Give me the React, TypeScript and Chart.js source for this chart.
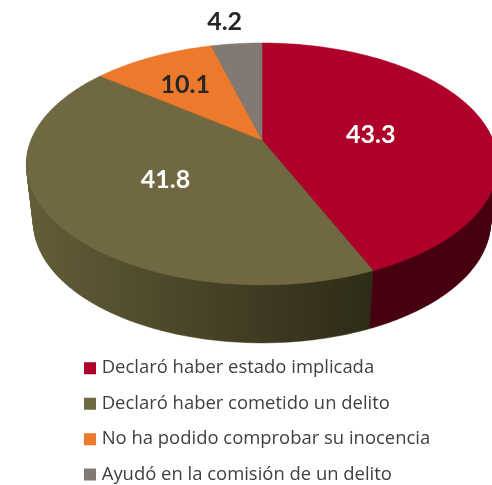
import React, { useEffect, useRef } from "react";
import { Chart, registerables } from "chart.js";

Chart.register(...registerables);

const categories = [
  "Declaró haber estado implicada",
  "Declaró haber cometido un delito",
  "No ha podido comprobar su inocencia",
  "Ayudó en la comisión de un delito",
];
const values = [43.3, 41.8, 10.1, 4.2];
const topColors = ["#ae0029", "#706840", "#ed7a2c", "#827a72"];
const sideStops = [
  ["#47000f", "#47000f"],
  ["#625c38", "#2e2b17"],
  ["#8a4517", "#8a4517"],
  ["#4c4742", "#4c4742"],
];
const labelColors = ["#ffffff", "#ffffff", "#262626", "#262626"];
// radial position of each value label and a small nudge
const labelRadial = [0.49, 0.5, 0.63, 1.284];
const labelNudgeX = [0, 1, -4, -6];
const labelNudgeY = [6, 2, 0, 0];

// perspective of the tilted disc
const CX = 262;
const APEX_Y = 140;
const RX = 231;
const RY = 116.2;
const K = 0.198;
const DEPTH = 58;
const SHRINK = 0.03;

function project(angle: number, f: number, t: number) {
  const u = Math.cos(angle) * f;
  const v = Math.sin(angle) * f;
  const d = 1 - K * v;
  return {
    x: CX + (RX * (1 - SHRINK * t) * u) / d,
    y: APEX_Y + DEPTH * t + (RY * v) / d,
  };
}

function wedge(ctx: CanvasRenderingContext2D, start: number, end: number, t: number) {
  const n = Math.max(8, Math.ceil((end - start) * 60));
  ctx.beginPath();
  const c = project(start, 0, t);
  ctx.moveTo(c.x, c.y);
  for (let i = 0; i <= n; i++) {
    const p = project(start + ((end - start) * i) / n, 1, t);
    ctx.lineTo(p.x, p.y);
  }
  ctx.closePath();
}

const disc3d = {
  id: "disc3d",
  beforeDatasetsDraw(chart: any) {
    const ctx: CanvasRenderingContext2D = chart.ctx;
    const arcs = chart.getDatasetMeta(0).data;
    ctx.save();
    for (let layer = DEPTH; layer >= 1; layer--) {
      const t = layer / DEPTH;
      arcs.forEach((arc: any, i: number) => {
        const g = ctx.createLinearGradient(33, 0, 370, 0);
        g.addColorStop(0, sideStops[i][0]);
        g.addColorStop(1, sideStops[i][1]);
        ctx.fillStyle = g;
        ctx.strokeStyle = g;
        ctx.lineWidth = 0.5;
        wedge(ctx, arc.startAngle, arc.endAngle, t);
        ctx.fill();
        ctx.stroke();
      });
    }
    arcs.forEach((arc: any) => {
      ctx.fillStyle = arc.options.backgroundColor;
      ctx.strokeStyle = arc.options.backgroundColor;
      ctx.lineWidth = 0.5;
      wedge(ctx, arc.startAngle, arc.endAngle, 0);
      ctx.fill();
      ctx.stroke();
    });
    ctx.font = "bold 25px Lato";
    ctx.textAlign = "center";
    ctx.textBaseline = "middle";
    arcs.forEach((arc: any, i: number) => {
      const p = project((arc.startAngle + arc.endAngle) / 2, labelRadial[i], 0);
      ctx.fillStyle = labelColors[i];
      ctx.fillText(String(values[i]), p.x + labelNudgeX[i], p.y + labelNudgeY[i]);
    });
    ctx.restore();
    return false;
  },
};

const legendPlace = {
  id: "legendPlace",
  afterLayout(chart: any) {
    const pad = chart.options.plugins.legend.labels.padding;
    chart.legend.left = 87.5 - pad;
    chart.legend.top = 367 - pad - 8;
  },
};

export default function App() {
  const ref = useRef<HTMLCanvasElement>(null);
  useEffect(() => {
    document.body.style.margin = "0";
    const chart = new Chart(ref.current as HTMLCanvasElement, {
      type: "pie",
      data: {
        labels: categories,
        datasets: [
          {
            data: values,
            backgroundColor: topColors,
            borderWidth: 0,
            clip: false,
          } as any,
        ],
      },
      options: {
        animation: false,
        responsive: false,
        events: [],
        plugins: {
          tooltip: { enabled: false },
          legend: {
            position: "bottom",
            align: "start",
            labels: {
              usePointStyle: true,
              pointStyle: "rect",
              boxWidth: 5,
              boxHeight: 12,
              padding: 17,
              color: "#404040",
              font: { family: "Open Sans", size: 18.45 },
            },
          },
        },
      },
      plugins: [disc3d, legendPlace],
    } as any);
    return () => chart.destroy();
  }, []);
  return <canvas ref={ref} width={492} height={485} style={{ display: "block" }} />;
}
